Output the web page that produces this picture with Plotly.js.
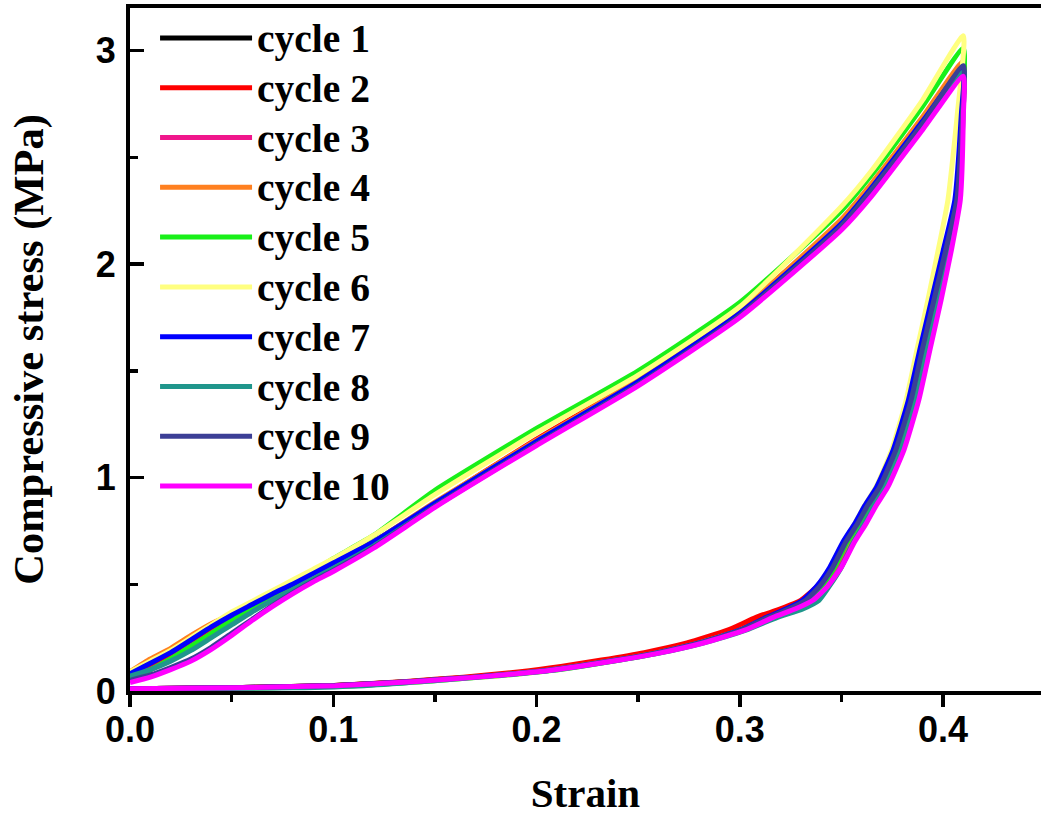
<!DOCTYPE html>
<html>
<head>
<meta charset="utf-8">
<script src="https://cdn.plot.ly/plotly-3.0.1.min.js"></script>
<style>
html, body { margin:0; padding:0; background:#fff; overflow:hidden; }
#chart { width:1041px; height:816px; }
</style>
</head>
<body>
<div id="chart"></div>
<script>
// ---------- DATA ----------
const cycleNames = ["cycle 1","cycle 2","cycle 3","cycle 4","cycle 5","cycle 6","cycle 7","cycle 8","cycle 9","cycle 10"];
const cycleColors = ["#000000","#ff0000","#f0168c","#ff8020","#19f019","#ffff80","#0000ff","#20968c","#3c3f96","#ff00ff"];

// loading branch: shared strain
const loadStrain = [0, 0.01, 0.02, 0.03, 0.04, 0.05, 0.06, 0.07, 0.08, 0.09, 0.10, 0.12, 0.15, 0.20, 0.25, 0.30, 0.35, 0.365, 0.39, 0.41];
const load1  = [0.08, 0.13, 0.185, 0.245, 0.30, 0.355, 0.405, 0.455, 0.50, 0.55, 0.60, 0.70, 0.88, 1.17, 1.45, 1.78, 2.20, 2.37, 2.68, 2.94];
const load2  = [0.07, 0.11, 0.16, 0.22, 0.28, 0.34, 0.39, 0.44, 0.49, 0.54, 0.59, 0.69, 0.88, 1.18, 1.46, 1.78, 2.20, 2.37, 2.67, 2.93];
const load3  = [0.06, 0.10, 0.15, 0.21, 0.27, 0.33, 0.385, 0.435, 0.485, 0.535, 0.585, 0.69, 0.875, 1.17, 1.45, 1.775, 2.19, 2.36, 2.66, 2.92];
const load4  = [0.09, 0.15, 0.20, 0.26, 0.315, 0.36, 0.41, 0.46, 0.505, 0.555, 0.60, 0.70, 0.885, 1.175, 1.455, 1.78, 2.21, 2.38, 2.69, 2.95];
const load5  = [0.06, 0.10, 0.15, 0.21, 0.27, 0.33, 0.39, 0.45, 0.50, 0.56, 0.62, 0.73, 0.94, 1.23, 1.50, 1.82, 2.25, 2.42, 2.74, 3.01];
const load6  = [0.09, 0.14, 0.19, 0.25, 0.31, 0.37, 0.42, 0.47, 0.52, 0.57, 0.62, 0.73, 0.92, 1.21, 1.48, 1.80, 2.27, 2.44, 2.77, 3.07];
const load7  = [0.08, 0.13, 0.18, 0.24, 0.30, 0.355, 0.405, 0.455, 0.50, 0.55, 0.60, 0.70, 0.88, 1.17, 1.45, 1.77, 2.19, 2.36, 2.67, 2.92];
const load8  = [0.07, 0.10, 0.14, 0.19, 0.25, 0.31, 0.37, 0.425, 0.475, 0.525, 0.575, 0.68, 0.865, 1.155, 1.435, 1.755, 2.175, 2.345, 2.65, 2.90];
const load9  = [0.05, 0.075, 0.11, 0.15, 0.205, 0.27, 0.335, 0.40, 0.46, 0.515, 0.565, 0.675, 0.865, 1.155, 1.435, 1.76, 2.18, 2.35, 2.66, 2.93];
const load10 = [0.04, 0.065, 0.10, 0.14, 0.195, 0.26, 0.33, 0.395, 0.455, 0.51, 0.56, 0.67, 0.86, 1.15, 1.43, 1.75, 2.16, 2.32, 2.63, 2.88];

// unloading branch: shared stress levels, per-cycle strain
const unloadStress = [2.70, 2.30, 2.06, 1.83, 1.60, 1.36, 1.13, 0.955, 0.87, 0.785, 0.70, 0.58, 0.49, 0.425, 0.385, 0.345, 0.285, 0.225, 0.18, 0.145, 0.115, 0.09, 0.065, 0.045, 0.025, 0.015, 0.01];
const unload1  = [0.4095, 0.4070, 0.4015, 0.3960, 0.3905, 0.3850, 0.3778, 0.3698, 0.3640, 0.3590, 0.3532, 0.3465, 0.3398, 0.3325, 0.3240, 0.3135, 0.3000, 0.2795, 0.2590, 0.2385, 0.2180, 0.1975, 0.1680, 0.1380, 0.0980, 0.0480, 0.0000];
const unload2  = [0.4095, 0.4072, 0.4018, 0.3965, 0.3910, 0.3855, 0.3783, 0.3700, 0.3642, 0.3590, 0.3530, 0.3455, 0.3380, 0.3300, 0.3200, 0.3080, 0.2940, 0.2740, 0.2530, 0.2320, 0.2120, 0.1920, 0.1640, 0.1360, 0.0980, 0.0480, 0.0000];
const unload3  = [0.4098, 0.4078, 0.4025, 0.3972, 0.3917, 0.3862, 0.3790, 0.3710, 0.3654, 0.3604, 0.3548, 0.3482, 0.3415, 0.3345, 0.3258, 0.3150, 0.3010, 0.2805, 0.2600, 0.2395, 0.2190, 0.1990, 0.1700, 0.1400, 0.1000, 0.0500, 0.0000];
const unload4  = [0.4095, 0.4070, 0.4015, 0.3960, 0.3905, 0.3850, 0.3778, 0.3698, 0.3640, 0.3590, 0.3532, 0.3465, 0.3398, 0.3328, 0.3245, 0.3140, 0.3005, 0.2800, 0.2595, 0.2390, 0.2185, 0.1985, 0.1690, 0.1390, 0.0990, 0.0490, 0.0000];
const unload5  = [0.4093, 0.4065, 0.4010, 0.3955, 0.3900, 0.3845, 0.3772, 0.3692, 0.3636, 0.3586, 0.3530, 0.3466, 0.3402, 0.3335, 0.3255, 0.3150, 0.3010, 0.2810, 0.2610, 0.2410, 0.2215, 0.2020, 0.1730, 0.1450, 0.1100, 0.0700, 0.0200];
const unload6  = [0.4070, 0.4024, 0.3975, 0.3925, 0.3872, 0.3818, 0.3748, 0.3670, 0.3615, 0.3566, 0.3512, 0.3450, 0.3388, 0.3322, 0.3242, 0.3140, 0.3005, 0.2805, 0.2605, 0.2405, 0.2210, 0.2015, 0.1725, 0.1440, 0.1080, 0.0650, 0.0150];
const unload7  = [0.4090, 0.4058, 0.4000, 0.3943, 0.3886, 0.3829, 0.3755, 0.3673, 0.3616, 0.3566, 0.3509, 0.3443, 0.3378, 0.3310, 0.3230, 0.3131, 0.3000, 0.2800, 0.2600, 0.2400, 0.2200, 0.2000, 0.1700, 0.1400, 0.1000, 0.0500, 0.0000];
const unload8  = [0.4098, 0.4080, 0.4030, 0.3978, 0.3922, 0.3866, 0.3794, 0.3714, 0.3660, 0.3612, 0.3560, 0.3500, 0.3440, 0.3390, 0.3310, 0.3185, 0.3030, 0.2820, 0.2615, 0.2410, 0.2210, 0.2010, 0.1720, 0.1450, 0.1150, 0.0800, 0.0300];
const unload9  = [0.4095, 0.4068, 0.4012, 0.3955, 0.3898, 0.3842, 0.3768, 0.3688, 0.3630, 0.3580, 0.3523, 0.3458, 0.3393, 0.3325, 0.3243, 0.3140, 0.3005, 0.2800, 0.2595, 0.2390, 0.2185, 0.1985, 0.1690, 0.1390, 0.0990, 0.0490, 0.0000];
const unload10 = [0.4100, 0.4085, 0.4040, 0.3990, 0.3936, 0.3880, 0.3808, 0.3728, 0.3672, 0.3622, 0.3566, 0.3500, 0.3432, 0.3360, 0.3275, 0.3165, 0.3025, 0.2820, 0.2615, 0.2410, 0.2205, 0.2005, 0.1710, 0.1410, 0.1010, 0.0510, 0.0000];

const xTickVals = [0.0, 0.1, 0.2, 0.3, 0.4];
const xTickText = ["0.0", "0.1", "0.2", "0.3", "0.4"];
const yTickVals = [0, 1, 2, 3];
const yTickText = ["0", "1", "2", "3"];

// ---------- BUILD ----------
const loads = [load1, load2, load3, load4, load5, load6, load7, load8, load9, load10];
const unloads = [unload1, unload2, unload3, unload4, unload5, unload6, unload7, unload8, unload9, unload10];

const traces = cycleNames.map((name, i) => ({
  type: 'scatter',
  mode: 'lines',
  name: '<span style="font-size:39.5px">' + name + '</span>',
  x: loadStrain.concat(unloads[i]),
  y: loads[i].concat(unloadStress),
  line: { color: cycleColors[i], width: 5, shape: 'spline', smoothing: 0.5 },
  hoverinfo: 'skip'
}));

const tickFont = { family: 'Liberation Sans, Arial, sans-serif', size: 36, color: '#000', weight: 'bold' };
const xTitleFont = { family: 'Liberation Serif, Times New Roman, serif', size: 41, color: '#000', weight: 'bold' };
const yTitleFont = { family: 'Liberation Serif, Times New Roman, serif', size: 42.5, color: '#000', weight: 'bold' };

const layout = {
  width: 1041,
  height: 816,
  margin: { l: 130, r: 0, t: 8, b: 125 },
  paper_bgcolor: '#fff',
  plot_bgcolor: '#fff',
  showlegend: true,
  legend: {
    x: 0.0275, y: 1.0, xanchor: 'left', yanchor: 'top',
    bgcolor: 'rgba(0,0,0,0)',
    font: { family: 'Liberation Serif, Times New Roman, serif', size: 36, color: '#000', weight: 'bold' },
    itemwidth: 92,
    tracegroupgap: 0
  },
  xaxis: {
    range: [0, 0.4482],
    tickmode: 'array', tickvals: xTickVals, ticktext: xTickText,
    ticks: 'outside', ticklen: 12, tickwidth: 3.5, tickcolor: '#000',
    minor: { dtick: 0.05, tick0: 0, ticks: 'outside', ticklen: 7, tickwidth: 3.5, tickcolor: '#000', showgrid: false },
    showline: true, linecolor: '#000', linewidth: 4, mirror: true,
    showgrid: false, zeroline: false,
    tickfont: tickFont,
    ticklabelstandoff: -8,
    title: { text: 'Strain', font: xTitleFont, standoff: 32 }
  },
  yaxis: {
    range: [0, 3.2],
    tickmode: 'array', tickvals: yTickVals, ticktext: yTickText,
    ticks: 'inside', ticklen: 14, tickwidth: 3.5, tickcolor: '#000',
    minor: { dtick: 0.5, tick0: 0, ticks: 'inside', ticklen: 8, tickwidth: 3.5, tickcolor: '#000', showgrid: false },
    showline: true, linecolor: '#000', linewidth: 4, mirror: false,
    showgrid: false, zeroline: false,
    tickfont: tickFont,
    ticklabelstandoff: 3,
    title: { text: 'Compressive stress (MPa)', font: yTitleFont, standoff: 40 }
  }
};

Plotly.newPlot('chart', traces, layout, { displayModeBar: false, staticPlot: true });
</script>
</body>
</html>
